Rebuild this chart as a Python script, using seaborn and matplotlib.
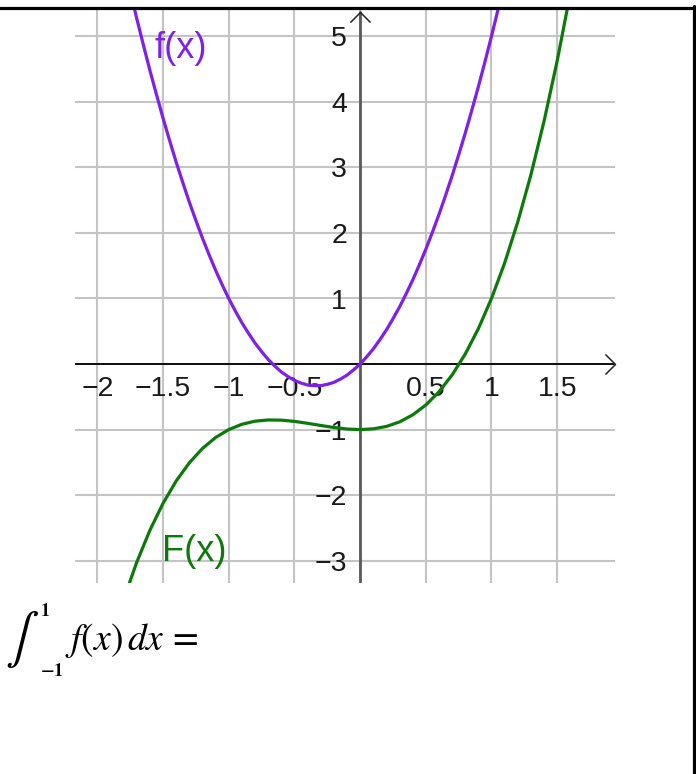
import numpy as np
import pandas as pd
import matplotlib
matplotlib.use("Agg")
import matplotlib.pyplot as plt
import seaborn as sns
from matplotlib.path import Path
from matplotlib.lines import Line2D

# ---- data ----
x_f = [-1.8, -1.75, -1.7, -1.65, -1.6, -1.55, -1.5, -1.45, -1.4, -1.35, -1.3, -1.25,
       -1.2, -1.15, -1.1, -1.05, -1.0, -0.95, -0.9, -0.85, -0.8, -0.75, -0.7, -0.65,
       -0.6, -0.55, -0.5, -0.45, -0.4, -0.35, -0.3, -0.25, -0.2, -0.15, -0.1, -0.05,
       0.0, 0.05, 0.1, 0.15, 0.2, 0.25, 0.3, 0.35, 0.4, 0.45, 0.5, 0.55, 0.6, 0.65,
       0.7, 0.75, 0.8, 0.85, 0.9, 0.95, 1.0, 1.05, 1.1]
f_vals = [6.12, 5.69, 5.27, 4.87, 4.48, 4.11, 3.75, 3.41, 3.08, 2.77, 2.47, 2.19,
          1.92, 1.67, 1.43, 1.21, 1.00, 0.81, 0.63, 0.47, 0.32, 0.19, 0.07, -0.03,
          -0.12, -0.19, -0.25, -0.29, -0.32, -0.33, -0.33, -0.31, -0.28, -0.23, -0.17, -0.09,
          0.00, 0.11, 0.23, 0.37, 0.52, 0.69, 0.87, 1.07, 1.28, 1.51, 1.75, 2.01, 2.28, 2.57,
          2.87, 3.19, 3.52, 3.87, 4.23, 4.61, 5.00, 5.41, 5.83]

x_F = [-1.8, -1.7, -1.6, -1.5, -1.4, -1.3, -1.2, -1.1, -1.0, -0.9, -0.8, -0.7,
       -0.6, -0.5, -0.4, -0.3, -0.2, -0.1, 0.0, 0.1, 0.2, 0.3, 0.4, 0.5, 0.6,
       0.7, 0.8, 0.9, 1.0, 1.1, 1.2, 1.3, 1.4, 1.5, 1.6]
F_vals = [-3.592, -3.023, -2.536, -2.125, -1.784, -1.507, -1.288, -1.121, -1.000,
          -0.919, -0.872, -0.853, -0.856, -0.875, -0.904, -0.937, -0.968, -0.991,
          -1.000, -0.989, -0.952, -0.883, -0.776, -0.625, -0.424, -0.167, 0.152,
          0.539, 1.000, 1.541, 2.168, 2.887, 3.704, 4.625, 5.656]

x_ticks = [-2, -1.5, -1, -0.5, 0.5, 1, 1.5]
x_tick_labels = ["\u22122", "\u22121.5", "\u22121", "\u22120.5", "0.5", "1", "1.5"]
y_ticks = [5, 4, 3, 2, 1, -1, -2, -3]
y_tick_labels = ["5", "4", "3", "2", "1", "\u22121", "\u22122", "\u22123"]

curve_labels = ["f(x)", "F(x)"]
integral_sign = r"$\int$"
integral_upper = r"$\mathbf{1}$"
integral_lower = r"$\mathbf{-1}$"
integral_body = r"$f(x)\,dx\, =$"

# ---- styling ----
sns.set_style("white")
plt.rcParams["font.family"] = ["Liberation Sans", "DejaVu Sans"]
plt.rcParams["mathtext.fontset"] = "stix"

PURPLE = "#7F1FEA"
GREEN = "#0B7A0B"

fig = plt.figure(figsize=(6.96, 7.74), dpi=100)
W, H = 696, 774
ax = fig.add_axes([75 / W, 1 - 583 / H, 540 / W, 573 / H])
ax.set_xlim(-2.17, 1.94)
ax.set_ylim(-3.34, 5.40)

# grid
ax.set_xticks(np.arange(-2, 2.0, 0.5))
ax.set_yticks(np.arange(-3, 6, 1))
ax.grid(True, color="#c4c4c4", lw=1.5, zorder=0)
ax.tick_params(length=0, labelbottom=False, labelleft=False)
for s in ax.spines.values():
    s.set_visible(False)

# axes lines
ax.axhline(0, color="black", lw=1.3, zorder=2)
ax.axvline(0, color="#5a5a5a", lw=2.0, zorder=2, ymax=(5.37 + 3.34) / (5.40 + 3.34))

# arrow heads (open chevrons)
chev_right = Path([(-1, 1), (0, 0), (-1, -1)], [Path.MOVETO, Path.LINETO, Path.LINETO])
chev_up = Path([(-1, -1), (0, 0), (1, -1)], [Path.MOVETO, Path.LINETO, Path.LINETO])
ax.plot([ax.get_xlim()[1]], [0], marker=chev_right, ms=14.5, mfc="none",
        mec="#222222", mew=1.1, clip_on=False, zorder=3, ls="none")
ax.plot([0], [5.37], marker=chev_up, ms=14.5, mfc="none",
        mec="#222222", mew=1.1, clip_on=False, zorder=3, ls="none")

# tick labels
for xv, lab in zip(x_ticks, x_tick_labels):
    ax.annotate(lab, xy=(xv, 0), xytext=(0, -8.5), textcoords="offset points",
                ha="center", va="top", fontsize=20.5, color="#1a1a1a", zorder=2.5)
for yv, lab in zip(y_ticks, y_tick_labels):
    ax.annotate(lab, xy=(0, yv), xytext=(-9.5, -2.2), textcoords="offset points",
                ha="right", va="center", fontsize=20.5, color="#1a1a1a", zorder=2.5)

# curves
df_f = pd.DataFrame({"x": x_f, "y": f_vals})
df_F = pd.DataFrame({"x": x_F, "y": F_vals})
sns.lineplot(data=df_f, x="x", y="y", ax=ax, color=PURPLE, lw=2.3, zorder=4)
sns.lineplot(data=df_F, x="x", y="y", ax=ax, color=GREEN, lw=2.3, zorder=4)
ax.set_xlabel("")
ax.set_ylabel("")

# curve labels
ax.text(-1.363, 4.82, curve_labels[0], color=PURPLE, fontsize=26,
        ha="center", va="center", zorder=5)
ax.text(-1.264, -2.855, curve_labels[1], color=GREEN, fontsize=26,
        ha="center", va="center", zorder=5)

# integral expression: sign, then limits placed just right of the sign's box
sign = fig.text(22 / W, 1 - 639 / H, integral_sign, fontsize=36, ha="center",
                va="center", color="black")
fig.canvas.draw()
bb = sign.get_window_extent()
lim_x = bb.x1 + 1
up = fig.text(lim_x / W, 1 - 611 / H, integral_upper, fontsize=13, ha="left",
              va="center", color="black")
lo = fig.text(lim_x / W, 1 - 671 / H, integral_lower, fontsize=13, ha="left",
              va="center", color="black")
fig.canvas.draw()
body_x = max(up.get_window_extent().x1, lo.get_window_extent().x1) + 2
fig.text(body_x / W, 1 - 640 / H, integral_body, fontsize=27, ha="left",
         va="center", color="black")

# frame lines (top and right)
fig.add_artist(Line2D([0, 1], [1 - 7.5 / H, 1 - 7.5 / H], transform=fig.transFigure,
                      color="black", lw=2.3))
fig.add_artist(Line2D([1 - 2.2 / W, 1 - 2.2 / W], [0, 1 - 6 / H], transform=fig.transFigure,
                      color="black", lw=2.3))

fig.savefig("out.png", dpi=100)
